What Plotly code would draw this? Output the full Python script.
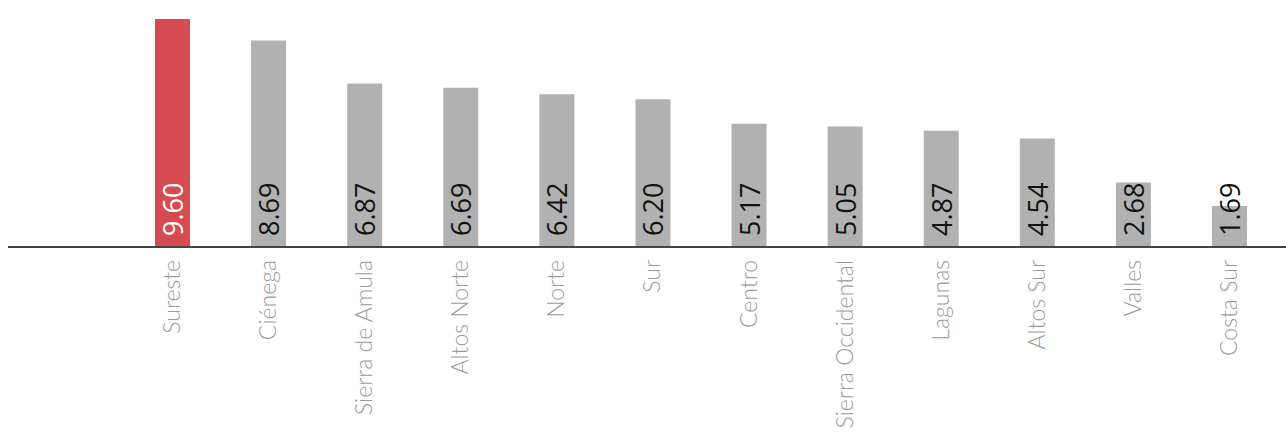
import plotly.graph_objects as go

regions = ["Sureste", "Ciénega", "Sierra de Amula", "Altos Norte", "Norte", "Sur",
           "Centro", "Sierra Occidental", "Lagunas", "Altos Sur", "Valles", "Costa Sur"]
values = [9.60, 8.69, 6.87, 6.69, 6.42, 6.20, 5.17, 5.05, 4.87, 4.54, 2.68, 1.69]
highlight = "Sureste"

RED = "#D64B4F"
GRAY = "#B1B1B1"
colors = [RED if r == highlight else GRAY for r in regions]
text_colors = ["#FFFFFF" if r == highlight else "#111111" for r in regions]

fig = go.Figure(go.Bar(
    x=regions,
    y=values,
    marker=dict(color=colors, line=dict(width=0)),
    width=0.364,
    text=["\u00a0" + f"{v:.2f}" for v in values],
    textposition="inside",
    insidetextanchor="start",
    textangle=-90,
    constraintext="none",
    textfont=dict(family="Open Sans", size=27, color=text_colors),
    cliponaxis=False,
    hoverinfo="skip",
))

fig.update_layout(
    width=1286, height=434,
    margin=dict(l=8, r=0, t=0, b=188),
    paper_bgcolor="white", plot_bgcolor="white",
    showlegend=False,
    bargap=0.636,
    xaxis=dict(
        type="category",
        range=[-1.712, 11.588],
        showgrid=False, zeroline=False,
        showline=True, linecolor="#444444", linewidth=1.5,
        ticks="",
        tickangle=-90,
        tickfont=dict(family="Lato", size=23, color="#9A9A9A", weight=300),
        ticklabelstandoff=3,
    ),
    yaxis=dict(
        range=[0, 10.40],
        visible=False, showgrid=False, zeroline=False,
    ),
)

fig.write_html("out.html")
